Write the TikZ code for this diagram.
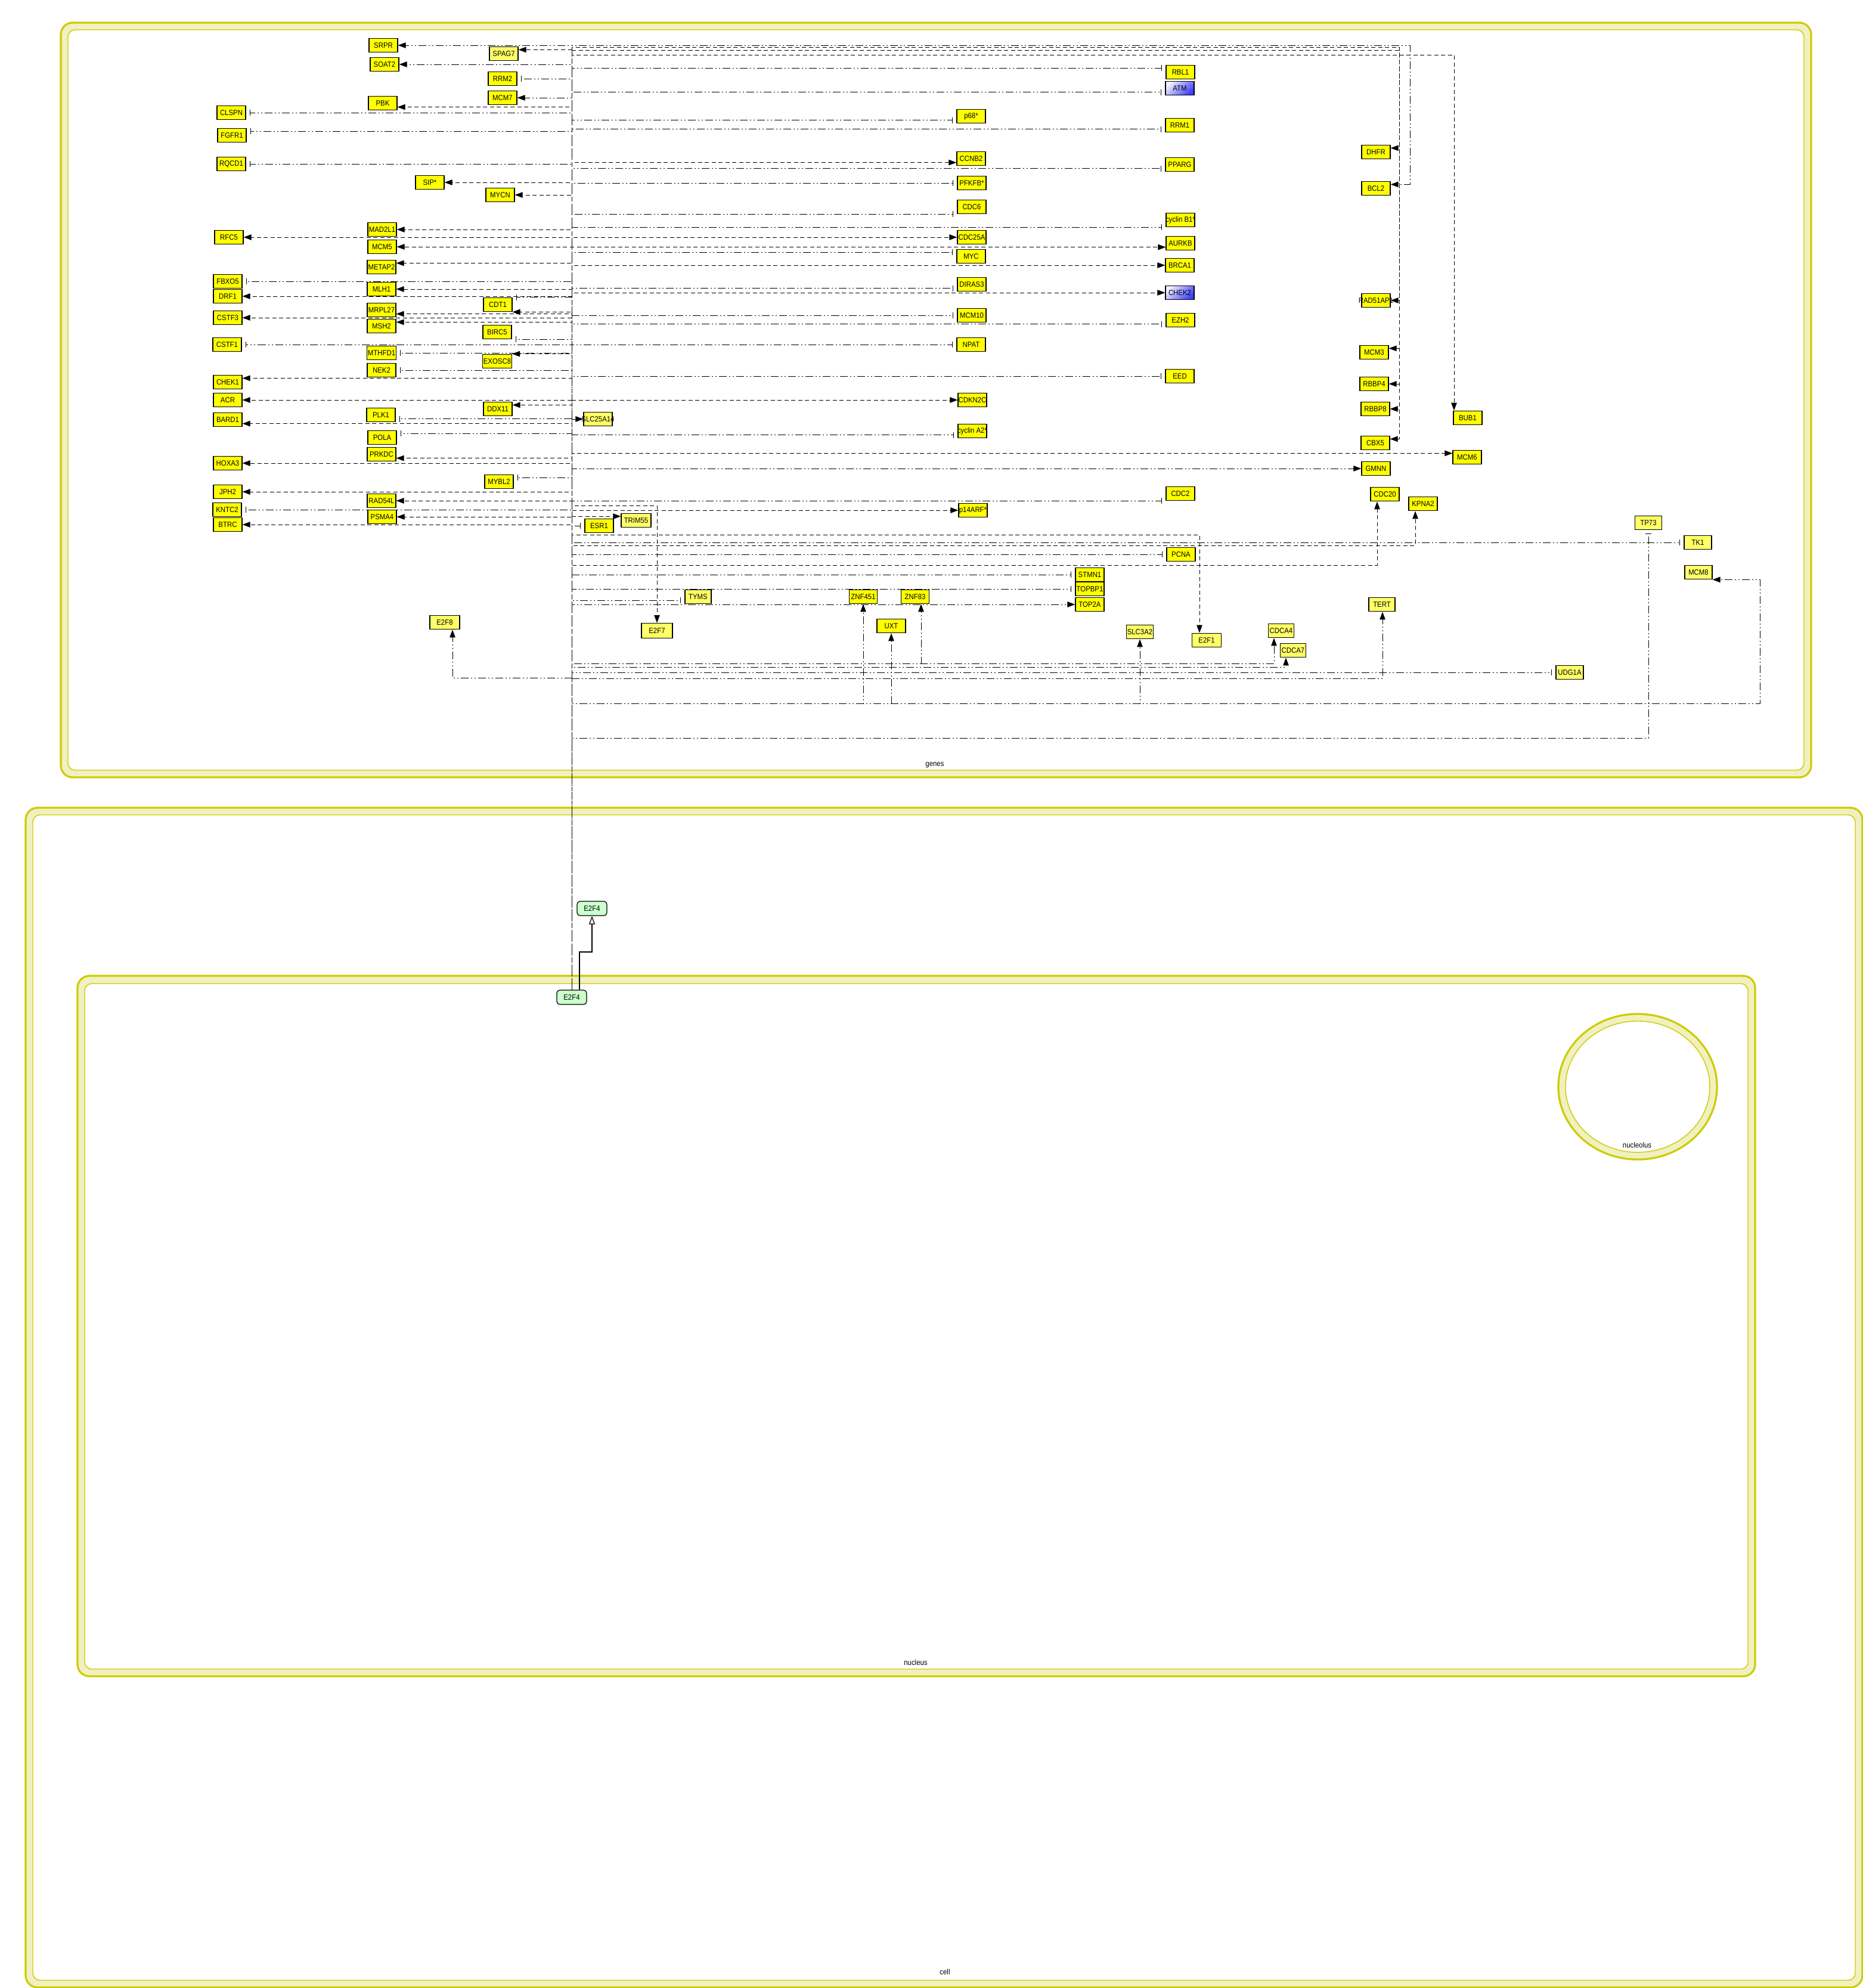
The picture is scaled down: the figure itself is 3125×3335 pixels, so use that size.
\documentclass[tikz,border=0pt]{standalone}
\usepackage{fontspec}
\setmainfont{Liberation Sans}[FakeStretch=0.9]
\usetikzlibrary{arrows.meta}

\definecolor{gyel}{RGB}{255,255,0}
\definecolor{gyelLt}{RGB}{255,255,102}
\definecolor{cpxgrn}{RGB}{204,255,204}
\definecolor{cmpline}{RGB}{204,204,0}
\definecolor{cmpband}{RGB}{240,240,192}

\pgfdeclarelayer{back}
\pgfdeclarelayer{wires}
\pgfsetlayers{back,wires,main}

\tikzset{
    gene/.style={draw=black, line width=0.35pt, fill=gyel, minimum width=0.48cm,
        minimum height=0.235cm, inner sep=0.4pt, font=\fontsize{3.6}{4}\selectfont},
    genelt/.style={gene, fill=gyelLt, minimum width=0.45cm},
    kinase/.style={gene, top color=blue!6, bottom color=blue!75, shading angle=45},
    cpx/.style={draw=black, line width=0.35pt, fill=cpxgrn, rounded corners=0.05cm,
        minimum width=0.5cm, minimum height=0.24cm, inner sep=0.4pt, font=\fontsize{3.6}{4}\selectfont},
    act/.style={line width=0.28pt, dash pattern=on 0.07cm off 0.045cm,
        -{Triangle[length=0.13cm, width=0.095cm]}},
    actdd/.style={line width=0.28pt, dash pattern=on 0.13cm off 0.04cm on 0.02cm off 0.04cm on 0.02cm off 0.04cm,
        -{Triangle[length=0.13cm, width=0.095cm]}},
    inh/.style={line width=0.28pt, dash pattern=on 0.13cm off 0.04cm on 0.02cm off 0.04cm on 0.02cm off 0.04cm,
        -{Bar[width=0.1cm]}, shorten >=0.06cm},
    trans/.style={line width=0.35pt, -{Triangle[open, length=0.14cm, width=0.1cm]}},
    compo/.style={draw=cmpline, line width=0.9pt, fill=cmpband, rounded corners=0.2cm},
    compi/.style={draw=cmpline, line width=0.4pt, fill=white, rounded corners=0.12cm},
    lbl/.style={inner sep=0pt, font=\fontsize{3.6}{4}\selectfont}
}

\begin{document}
\begin{tikzpicture}[x=0.01cm, y=-0.01cm]

        \useasboundingbox (0,0) rectangle (3125,3335);

        % compartments
        \begin{pgfonlayer}{back}
        \draw[compo] (102,38) rectangle (3038,1304); % genes
        \draw[compi] (114,50) rectangle (3026,1292);
        \draw[compo] (43,1355) rectangle (3124,3334); % cell
        \draw[compi] (55,1367) rectangle (3112,3322);
        \draw[compo] (130,1637) rectangle (2944,2812); % nucleus
        \draw[compi] (142,1650) rectangle (2932,2800);
        \draw[compo] (2747,1823) ellipse [x radius=1.33cm, y radius=1.22cm]; % nucleolus
        \draw[compi, rounded corners=0pt] (2747,1823) ellipse [x radius=1.21cm, y radius=1.1cm];
        \node[lbl] (genesl) at (1568,1283) {genes};
        \node[lbl] (nucleusl) at (1536,2789) {nucleus};
        \node[lbl] (celll) at (1585,3308) {cell};
        \node[lbl] (nucleolusl) at (2746,1921) {nucleolus};
        \end{pgfonlayer}

        % E2F4
        \node[cpx] (e2fc) at (993,1524) {E2F4};
        \node[cpx] (e2fn) at (959,1673) {E2F4};

        % left column
        \node[gene] (CLSPN) at (388,189) {CLSPN};
        \node[gene] (FGFR1) at (389,227) {FGFR1};
        \node[gene] (RQCD1) at (388,275) {RQCD1};
        \node[gene] (RFC5) at (384,398) {RFC5};
        \node[gene] (FBXO5) at (382,472) {FBXO5};
        \node[gene] (DRF1) at (382,497) {DRF1};
        \node[gene] (CSTF3) at (382,533) {CSTF3};
        \node[gene] (CSTF1) at (381,578) {CSTF1};
        \node[gene] (CHEK1) at (382,641) {CHEK1};
        \node[gene] (ACR) at (382,671) {ACR};
        \node[gene] (BARD1) at (382,704) {BARD1};
        \node[gene] (HOXA3) at (382,777) {HOXA3};
        \node[gene] (JPH2) at (382,825) {JPH2};
        \node[gene] (KNTC2) at (381,855) {KNTC2};
        \node[gene] (BTRC) at (382,880) {BTRC};

        % second column
        \node[gene] (SRPR) at (643,76) {SRPR};
        \node[gene] (SOAT2) at (645,108) {SOAT2};
        \node[gene] (PBK) at (642,173) {PBK};
        \node[gene] (SIP) at (721,306) {SIP*};
        \node[gene] (MAD2L1) at (641,385) {MAD2L1};
        \node[gene] (MCM5) at (641,414) {MCM5};
        \node[gene] (METAP2) at (640,448) {METAP2};
        \node[gene] (MLH1) at (640,485) {MLH1};
        \node[gene] (MRPL27) at (640,520) {MRPL27};
        \node[gene] (MSH2) at (640,547) {MSH2};
        \node[gene] (MTHFD1) at (640,592) {MTHFD1};
        \node[gene] (NEK2) at (640,621) {NEK2};
        \node[gene] (PLK1) at (639,696) {PLK1};
        \node[gene] (POLA) at (641,734) {POLA};
        \node[gene] (PRKDC) at (640,762) {PRKDC};
        \node[gene] (RAD54L) at (640,840) {RAD54L};
        \node[gene] (PSMA4) at (641,867) {PSMA4};

        % third column
        \node[gene, fill=gyelLt] (SPAG7) at (845,90) {SPAG7};
        \node[gene] (RRM2) at (843,132) {RRM2};
        \node[gene] (MCM7) at (843,164) {MCM7};
        \node[gene] (MYCN) at (839,327) {MYCN};
        \node[gene] (CDT1) at (835,511) {CDT1};
        \node[gene] (BIRC5) at (834,557) {BIRC5};
        \node[gene] (EXOSC8) at (834,606) {EXOSC8};
        \node[gene] (DDX11) at (835,686) {DDX11};
        \node[gene] (MYBL2) at (837,808) {MYBL2};

        % middle
        \node[genelt, minimum width=0.48cm] (SLC25A14) at (1003,703) {\makebox[0.44cm]{SLC25A14}};
        \node[gene] (ESR1) at (1005,882) {ESR1};
        \node[genelt, minimum width=0.5cm] (TRIM55) at (1067,873) {TRIM55};
        \node[genelt, minimum width=0.5cm] (E2F8) at (746,1044) {E2F8};
        \node[genelt, minimum width=0.52cm, minimum height=0.25cm] (E2F7) at (1102,1058) {E2F7};
        \node[genelt, minimum width=0.44cm] (TYMS) at (1171,1001) {TYMS};
        \node[gene, minimum width=0.47cm] (ZNF451) at (1448,1001) {ZNF451};
        \node[gene, minimum width=0.47cm] (ZNF83) at (1535,1001) {ZNF83};
        \node[gene] (UXT) at (1495,1050) {UXT};

        % fourth column
        \node[gene] (p68) at (1629,195) {p68*};
        \node[gene] (CCNB2) at (1629,266) {CCNB2};
        \node[gene] (PFKFB) at (1630,307) {PFKFB*};
        \node[gene] (CDC6) at (1630,347) {CDC6};
        \node[gene] (CDC25A) at (1630,398) {CDC25A};
        \node[gene] (MYC) at (1629,430) {MYC};
        \node[gene] (DIRAS3) at (1630,477) {DIRAS3};
        \node[gene] (MCM10) at (1630,529) {MCM10};
        \node[gene] (NPAT) at (1629,578) {NPAT};
        \node[gene] (CDKN2C) at (1631,671) {\makebox[0.44cm]{CDKN2C}};
        \node[gene] (cycA2) at (1631,723) {\makebox[0.44cm]{cyclin A2*}};
        \node[gene] (p14ARF) at (1632,856) {\makebox[0.44cm]{p14ARF*}};

        % fifth column
        \node[gene] (RBL1) at (1980,121) {RBL1};
        \node[kinase] (ATM) at (1979,148) {ATM};
        \node[gene] (RRM1) at (1979,210) {RRM1};
        \node[gene] (PPARG) at (1979,276) {PPARG};
        \node[gene] (cycB1) at (1980,369) {\makebox[0.44cm]{cyclin B1*}};
        \node[gene] (AURKB) at (1980,408) {AURKB};
        \node[gene] (BRCA1) at (1979,445) {BRCA1};
        \node[kinase] (CHEK2) at (1979,491) {CHEK2};
        \node[gene] (EZH2) at (1980,537) {EZH2};
        \node[gene] (EED) at (1979,631) {EED};
        \node[gene] (CDC2) at (1980,828) {CDC2};
        \node[gene] (PCNA) at (1981,930) {PCNA};
        \node[gene] (STMN1) at (1828,964) {STMN1};
        \node[gene] (TOPBP1) at (1828,988) {TOPBP1};
        \node[gene] (TOP2A) at (1828,1014) {TOP2A};
        \node[genelt] (SLC3A2) at (1912,1060) {SLC3A2};
        \node[genelt, minimum width=0.49cm] (E2F1) at (2024,1074) {E2F1};
        \node[genelt, minimum width=0.43cm] (CDCA4) at (2149,1058) {CDCA4};
        \node[genelt, minimum width=0.43cm] (CDCA7) at (2169,1091) {CDCA7};
        \node[genelt, minimum width=0.44cm] (TERT) at (2318,1014) {TERT};
        \node[genelt, minimum width=0.46cm] (UDG1A) at (2633,1128) {UDG1A};

        % right columns
        \node[gene] (DHFR) at (2308,255) {DHFR};
        \node[gene] (BCL2) at (2308,316) {BCL2};
        \node[gene] (RAD51AP1) at (2308,504) {\makebox[0.44cm]{RAD51AP1}};
        \node[gene] (MCM3) at (2305,591) {MCM3};
        \node[gene] (RBBP4) at (2305,644) {RBBP4};
        \node[gene] (RBBP8) at (2307,686) {RBBP8};
        \node[gene] (CBX5) at (2307,743) {CBX5};
        \node[gene] (GMNN) at (2308,786) {GMNN};
        \node[gene] (CDC20) at (2323,829) {CDC20};
        \node[gene] (KPNA2) at (2387,845) {KPNA2};
        \node[gene] (BUB1) at (2462,701) {BUB1};
        \node[gene] (MCM6) at (2461,767) {MCM6};
        \node[genelt] (TP73) at (2765,877) {TP73};
        \node[genelt, minimum width=0.46cm] (TK1) at (2848,910) {TK1};
        \node[genelt, minimum width=0.46cm] (MCM8) at (2849,960) {MCM8};

        % bend points
        \coordinate (kA) at (2347,79);
        \coordinate (kB) at (2347,84);
        \coordinate (kC) at (2365,76);
        \coordinate (kD) at (2439,92);
        \coordinate (kE) at (1102,848);
        \coordinate (kF) at (2012,897);
        \coordinate (kG) at (2374,915);
        \coordinate (kH) at (2310,948);
        \coordinate (kI) at (1448,1180);
        \coordinate (kJ) at (1495,1180);
        \coordinate (kK) at (1912,1180);
        \coordinate (kL) at (2952,1180);
        \coordinate (kM) at (1545,1113);
        \coordinate (kN) at (2137,1113);
        \coordinate (kO) at (2157,1119);
        \coordinate (kP) at (2319,1138);
        \coordinate (kQ) at (759,1137);
        \coordinate (kR) at (2765,1238);
        \coordinate (kT) at (993,1597);

        \begin{pgfonlayer}{wires}
        \draw[trans] ([xshift=0.13cm]e2fn.north) |- (kT) -- (e2fc.south);

        % to the left
        \draw[actdd] (e2fn.north) |- (SRPR.east);
        \draw[act] (e2fn.north) |- (SPAG7.15);
        \draw[actdd] (e2fn.north) |- (SOAT2.east);
        \draw[inh] (e2fn.north) |- (RRM2.east);
        \draw[actdd] (e2fn.north) |- (MCM7.east);
        \draw[act] (e2fn.north) |- (PBK.-15);
        \draw[inh] (e2fn.north) |- (CLSPN.east);
        \draw[inh] (e2fn.north) |- (FGFR1.15);
        \draw[inh] (e2fn.north) |- (RQCD1.east);
        \draw[act] (e2fn.north) |- (SIP.east);
        \draw[act] (e2fn.north) |- (MYCN.east);
        \draw[act] (e2fn.north) |- (MAD2L1.east);
        \draw[act] (e2fn.north) |- (RFC5.east);
        \draw[act] (e2fn.north) |- (MCM5.east);
        \draw[act] (e2fn.north) |- (METAP2.15);
        \draw[inh] (e2fn.north) |- (FBXO5.east);
        \draw[act] (e2fn.north) |- (MLH1.east);
        \draw[act] (e2fn.north) |- (DRF1.east);
        \draw[inh] (e2fn.north) |- (CDT1.north east);
        \draw[act] (e2fn.north) |- (CDT1.south east);
        \draw[act] (e2fn.north) |- (MRPL27.-15);
        \draw[act] (e2fn.north) |- (CSTF3.east);
        \draw[act] (e2fn.north) |- (MSH2.15);
        \draw[inh] (e2fn.north) |- (BIRC5.south east);
        \draw[inh] (e2fn.north) |- (CSTF1.east);
        \draw[inh] (e2fn.north) |- (MTHFD1.east);
        \draw[act] (e2fn.north) |- (EXOSC8.north east);
        \draw[inh] (e2fn.north) |- (NEK2.east);
        \draw[act] (e2fn.north) |- (CHEK1.15);
        \draw[act] (e2fn.north) |- (ACR.east);
        \draw[act] (e2fn.north) |- (DDX11.15);
        \draw[inh] (e2fn.north) |- (PLK1.-15);
        \draw[act] (e2fn.north) |- (BARD1.-15);
        \draw[inh] (e2fn.north) |- (POLA.15);
        \draw[act] (e2fn.north) |- (PRKDC.-15);
        \draw[act] (e2fn.north) |- (HOXA3.east);
        \draw[inh] (e2fn.north) |- (MYBL2.15);
        \draw[act] (e2fn.north) |- (JPH2.east);
        \draw[act] (e2fn.north) |- (RAD54L.east);
        \draw[inh] (e2fn.north) |- (KNTC2.east);
        \draw[act] (e2fn.north) |- (PSMA4.east);
        \draw[act] (e2fn.north) |- (BTRC.east);
        \draw[actdd] (e2fn.north) |- (kQ) -- (kQ |- E2F8.south);

        % to the right
        \draw[inh] (e2fn.north) |- (RBL1.165);
        \draw[inh] (e2fn.north) |- (ATM.195);
        \draw[inh] (e2fn.north) |- (p68.195);
        \draw[inh] (e2fn.north) |- (RRM1.195);
        \draw[act] (e2fn.north) |- (CCNB2.195);
        \draw[inh] (e2fn.north) |- (PPARG.195);
        \draw[inh] (e2fn.north) |- (PFKFB.west);
        \draw[inh] (e2fn.north) |- (CDC6.south west);
        \draw[inh] (e2fn.north) |- (cycB1.south west);
        \draw[act] (e2fn.north) |- (CDC25A.west);
        \draw[act] (e2fn.north) |- (AURKB.195);
        \draw[inh] (e2fn.north) |- (MYC.165);
        \draw[act] (e2fn.north) |- (BRCA1.west);
        \draw[inh] (e2fn.north) |- (DIRAS3.195);
        \draw[act] (e2fn.north) |- (CHEK2.west);
        \draw[inh] (e2fn.north) |- (MCM10.west);
        \draw[inh] (e2fn.north) |- (EZH2.195);
        \draw[inh] (e2fn.north) |- (NPAT.west);
        \draw[inh] (e2fn.north) |- (EED.west);
        \draw[act] (e2fn.north) |- (CDKN2C.west);
        \draw[actdd] (e2fn.north) |- (SLC25A14.west);
        \draw[inh] (e2fn.north) |- (cycA2.195);
        \draw[act] (e2fn.north) |- (MCM6.165);
        \draw[actdd] (e2fn.north) |- (GMNN.west);
        \draw[inh] (e2fn.north) |- (CDC2.south west);
        \draw[act] (e2fn.north) |- (p14ARF.west);
        \draw[act] (e2fn.north) |- (TRIM55.165);
        \draw[inh] (e2fn.north) |- (ESR1.west);
        \draw[act] (e2fn.north) |- (kE) -- (kE |- E2F7.north);
        \draw[act] (e2fn.north) |- (kF) -- (kF |- E2F1.north);
        \draw[inh] (e2fn.north) |- (TK1.west);
        \draw[act] (e2fn.north) |- (kG) -- (kG |- KPNA2.south);
        \draw[inh] (e2fn.north) |- (PCNA.west);
        \draw[act] (e2fn.north) |- (kH) -- (kH |- CDC20.south);
        \draw[inh] (e2fn.north) |- (STMN1.west);
        \draw[inh] (e2fn.north) |- (TOPBP1.west);
        \draw[inh] (e2fn.north) |- (TYMS.195);
        \draw[actdd] (e2fn.north) |- (TOP2A.west);
        \draw[actdd] (e2fn.north) |- (kI) -- (kI |- ZNF451.south);
        \draw[actdd] (e2fn.north) |- (kJ) -- (kJ |- UXT.south);
        \draw[actdd] (e2fn.north) |- (kK) -- (kK |- SLC3A2.south);
        \draw[actdd] (e2fn.north) |- (kL) |- (MCM8.south east);
        \draw[actdd] (e2fn.north) |- (kM) -- (kM |- ZNF83.south);
        \draw[actdd] (e2fn.north) |- (kN) -- (kN |- CDCA4.south);
        \draw[actdd] (e2fn.north) |- (kO) -- (kO |- CDCA7.south);
        \draw[actdd] (e2fn.north) |- (kP) -- (kP |- TERT.south);
        \draw[inh] (e2fn.north) |- (UDG1A.west);
        \draw[inh] (e2fn.north) |- (kR) -- (TP73.south);

        % over the top
        \draw[act] (e2fn.north) |- (kA) |- (DHFR.15);
        \draw[act] (e2fn.north) |- (kA) |- (RAD51AP1.east);
        \draw[act] (e2fn.north) |- (kB) |- (MCM3.15);
        \draw[act] (e2fn.north) |- (kB) |- (RBBP4.east);
        \draw[act] (e2fn.north) |- (kB) |- (RBBP8.east);
        \draw[act] (e2fn.north) |- (kB) |- (CBX5.15);
        \draw[actdd] (e2fn.north) |- (kC) |- (BCL2.15);
        \draw[act] (e2fn.north) |- (kD) -- (kD |- BUB1.north);
        \end{pgfonlayer}

    \end{tikzpicture}
\end{document}
